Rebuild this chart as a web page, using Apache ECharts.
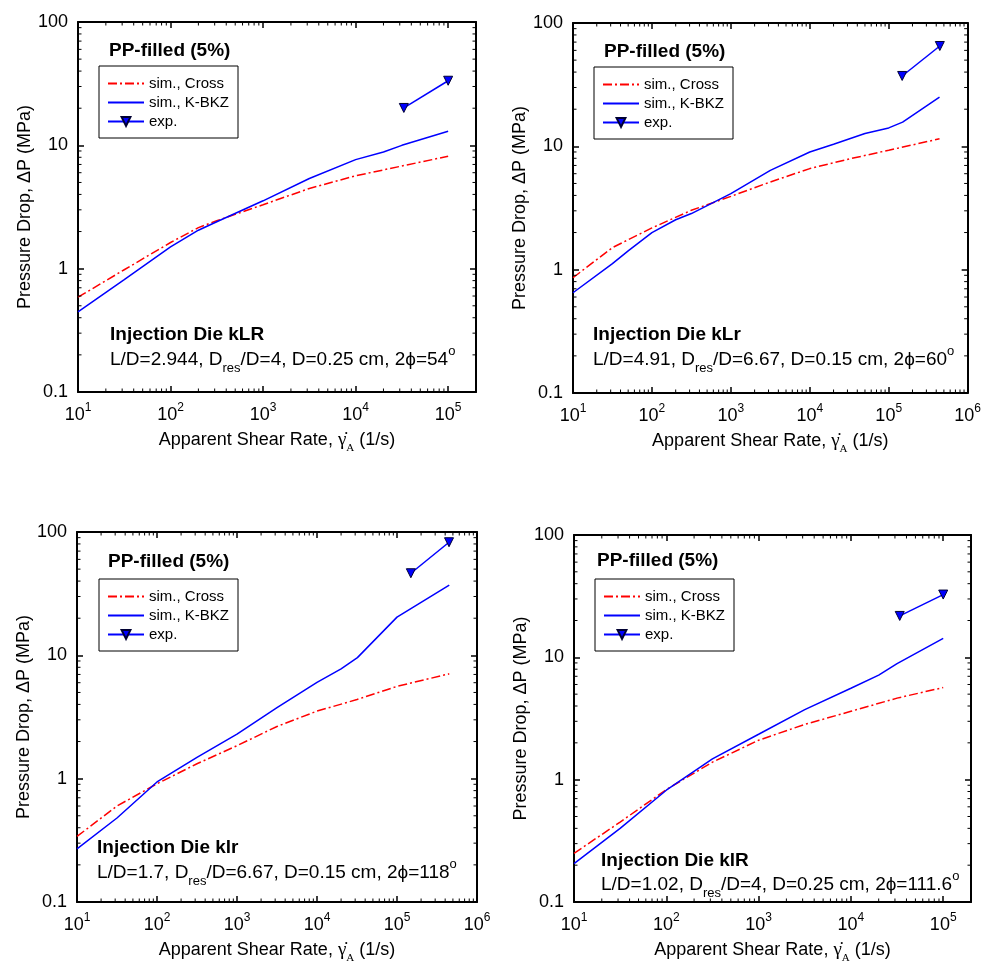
<!DOCTYPE html>
<html><head><meta charset="utf-8">
<script src="https://cdn.jsdelivr.net/npm/echarts@6/dist/echarts.min.js"></script>
<style>html,body{margin:0;padding:0;background:#fff}#c{width:984px;height:965px}</style>
</head><body><div id="c"></div><script>
// ---------------- DATA ----------------
const seriesNames = ['sim., Cross', 'sim., K-BKZ', 'exp.'];
const panelTitle = 'PP-filled (5%)';
const dieNames = ['Injection Die kLR', 'Injection Die kLr', 'Injection Die klr', 'Injection Die klR'];
const dieParams = [
  'L/D=2.944, D{sub|res}/D=4, D=0.25 cm, 2\u03D5=54{sup|o}',
  'L/D=4.91, D{sub|res}/D=6.67, D=0.15 cm, 2\u03D5=60{sup|o}',
  'L/D=1.7, D{sub|res}/D=6.67, D=0.15 cm, 2\u03D5=118{sup|o}',
  'L/D=1.02, D{sub|res}/D=4, D=0.25 cm, 2\u03D5=111.6{sup|o}'
];
const xAxisTitle = '{t|Apparent Shear Rate, }{g|\u03B3\u0307}{a|A}{t| (1/s)}';
const yAxisTitle = 'Pressure Drop, \u0394P (MPa)';
const xMinAll = 10;
const xMaxPanels = [2e5, 1e6, 1e6, 2e5];
const yMinAll = 0.1, yMaxAll = 100;

// Panel 1: kLR
const kLR_crossX = [10, 31.6, 100, 200, 316, 1000, 3162, 10000, 31620, 100000];
const kLR_crossY = [0.587, 0.98, 1.63, 2.15, 2.45, 3.3, 4.47, 5.66, 6.8, 8.15];
const kLR_kbkzX = [10, 31.6, 100, 200, 316, 1000, 3162, 10000, 20000, 31620, 100000];
const kLR_kbkzY = [0.447, 0.815, 1.50, 2.05, 2.40, 3.55, 5.38, 7.66, 8.84, 10.0, 13.0];
const kLR_expX = [33200, 100000];
const kLR_expY = [20.1, 33.4];

// Panel 2: kLr
const kLr_crossX = [10, 31.6, 100, 316, 1000, 3162, 10000, 31620, 100000, 440000];
const kLr_crossY = [0.86, 1.51, 2.18, 3.03, 3.93, 5.14, 6.6, 7.9, 9.3, 11.5];
const kLr_kbkzX = [10, 31.6, 50, 100, 200, 316, 1000, 3162, 10000, 20000, 50000, 100000, 150000, 440000];
const kLr_kbkzY = [0.65, 1.12, 1.42, 2.0, 2.54, 2.85, 4.13, 6.39, 9.0, 10.4, 12.7, 14.1, 15.7, 25.1];
const kLr_expX = [148000, 444000];
const kLr_expY = [37.2, 65.1];

// Panel 3: klr
const klr_crossX = [10, 31.6, 100, 316, 1000, 3162, 10000, 31620, 100000, 450000];
const klr_crossY = [0.34, 0.60, 0.91, 1.32, 1.85, 2.65, 3.53, 4.38, 5.6, 7.08];
const klr_kbkzX = [10, 31.6, 100, 316, 1000, 3162, 10000, 20000, 32000, 100000, 450000];
const klr_kbkzY = [0.27, 0.48, 0.94, 1.49, 2.3, 3.76, 6.04, 7.77, 9.58, 20.4, 37.1];
const klr_expX = [149000, 447000];
const klr_expY = [46.3, 82.6];

// Panel 4: klR
const klR_crossX = [10, 31.6, 100, 316, 1000, 3162, 10000, 31620, 100000];
const klR_crossY = [0.25, 0.45, 0.83, 1.39, 2.1, 2.83, 3.62, 4.64, 5.66];
const klR_kbkzX = [10, 31.6, 100, 316, 1000, 3162, 10000, 20000, 31620, 100000];
const klR_kbkzY = [0.206, 0.40, 0.82, 1.48, 2.35, 3.74, 5.59, 7.16, 8.89, 14.3];
const klR_expX = [33800, 100000];
const klR_expY = [21.8, 32.6];

// ---------------- LAYOUT ----------------
const FONT = '"Liberation Sans", Arial, Helvetica, sans-serif';
const SERIF = '"Liberation Serif", "Times New Roman", serif';
const gridBoxes = [[78, 22, 398, 370], [573, 23, 397, 370], [77, 532, 400, 374], [574, 535, 397, 371]];
const titlePos = [[109, 51], [604, 52], [108, 562], [597, 561]];
const legendPos = [[99, 66], [594, 67], [99, 579], [595, 579]];
const diePos = [[110, 335], [593, 335], [97, 848], [601, 861]];
const paramPos = [[110, 345], [593, 345], [97, 858], [601, 870]];

const panelData = [
  [[kLR_crossX, kLR_crossY], [kLR_kbkzX, kLR_kbkzY], [kLR_expX, kLR_expY]],
  [[kLr_crossX, kLr_crossY], [kLr_kbkzX, kLr_kbkzY], [kLr_expX, kLr_expY]],
  [[klr_crossX, klr_crossY], [klr_kbkzX, klr_kbkzY], [klr_expX, klr_expY]],
  [[klR_crossX, klR_crossY], [klR_kbkzX, klR_kbkzY], [klR_expX, klR_expY]]
];
const zip = (xs, ys) => xs.map((x, i) => [x, ys[i]]);

function isPow10(v) { const l = Math.log10(v); return Math.abs(l - Math.round(l)) < 1e-6; }
function xFmt(v) { if (!isPow10(v)) return ''; return '{b|10}{s|' + Math.round(Math.log10(v)) + '}'; }
function yFmt(v) {
  if (!isPow10(v)) return '';
  const e = Math.round(Math.log10(v));
  return e >= 0 ? String(Math.pow(10, e)) : '0.' + '0'.repeat(-e - 1) + '1';
}
function minorTicks(lo, hi) {
  const out = [];
  for (let e = Math.floor(Math.log10(lo)); e <= Math.ceil(Math.log10(hi)); e++) {
    for (let k = 2; k <= 9; k++) { const v = k * Math.pow(10, e); if (v > lo * 1.0001 && v < hi * 0.9999) out.push(v); }
  }
  return out;
}
function renderMinor(params, api) {
  const cs = params.coordSys;
  const kind = api.value(2);
  const p = api.coord([api.value(0), api.value(1)]);
  const L = 3.5, st = { stroke: '#000', lineWidth: 1 };
  if (kind === 0) {
    const x = p[0];
    return { type: 'group', children: [
      { type: 'line', shape: { x1: x, y1: cs.y + cs.height, x2: x, y2: cs.y + cs.height - L }, style: st },
      { type: 'line', shape: { x1: x, y1: cs.y, x2: x, y2: cs.y + L }, style: st }
    ] };
  }
  const y = p[1];
  return { type: 'group', children: [
    { type: 'line', shape: { x1: cs.x, y1: y, x2: cs.x + L, y2: y }, style: st },
    { type: 'line', shape: { x1: cs.x + cs.width, y1: y, x2: cs.x + cs.width - L, y2: y }, style: st }
  ] };
}

const axisLine = { lineStyle: { color: '#000', width: 2 } };
const axisTick = { inside: true, length: 6, lineStyle: { color: '#000', width: 1.5 } };

const option = { animation: false, backgroundColor: '#fff', grid: [], xAxis: [], yAxis: [], series: [], legend: [], graphic: [] };

gridBoxes.forEach((g, i) => {
  option.grid.push({ left: g[0], top: g[1], width: g[2], height: g[3] });
  const xMax = xMaxPanels[i];
  const xb = option.xAxis.length;
  option.xAxis.push({
    type: 'log', logBase: 10, gridIndex: i, min: xMinAll, max: xMax, position: 'bottom',
    axisLine, axisTick, splitLine: { show: false }, minorTick: { show: false },
    axisLabel: { margin: 10, formatter: xFmt, color: '#000', showMaxLabel: true,
      rich: { b: { fontSize: 18, fontFamily: FONT, color: '#000', lineHeight: 22, verticalAlign: 'bottom' },
              s: { fontSize: 12, fontFamily: FONT, color: '#000', lineHeight: 22, verticalAlign: 'top' } } },
    name: xAxisTitle, nameLocation: 'middle', nameGap: 34,
    nameTextStyle: { color: '#000', fontSize: 18, fontFamily: FONT, lineHeight: 28,
      rich: { t: { fontSize: 18, fontFamily: FONT, color: '#000', lineHeight: 28 },
              g: { fontSize: 19, fontFamily: SERIF, color: '#000', lineHeight: 28 },
              a: { fontSize: 11, fontFamily: SERIF, color: '#000', lineHeight: 28, verticalAlign: 'bottom' } } }
  });
  option.xAxis.push({
    type: 'log', logBase: 10, gridIndex: i, min: xMinAll, max: xMax, position: 'top',
    axisLine, axisTick, splitLine: { show: false }, axisLabel: { show: false }
  });
  const yb = option.yAxis.length;
  option.yAxis.push({
    type: 'log', logBase: 10, gridIndex: i, min: yMinAll, max: yMaxAll, position: 'left',
    axisLine, axisTick, splitLine: { show: false },
    axisLabel: { margin: 10, formatter: yFmt, color: '#000', fontSize: 18, fontFamily: FONT },
    name: yAxisTitle, nameLocation: 'middle', nameGap: 44,
    nameTextStyle: { color: '#000', fontSize: 18, fontFamily: FONT }
  });
  option.yAxis.push({
    type: 'log', logBase: 10, gridIndex: i, min: yMinAll, max: yMaxAll, position: 'right',
    axisLine, axisTick, splitLine: { show: false }, axisLabel: { show: false }
  });

  const d = panelData[i];
  option.series.push({
    type: 'line', name: seriesNames[0], xAxisIndex: xb, yAxisIndex: yb, data: zip(d[0][0], d[0][1]),
    symbol: 'none', lineStyle: { color: '#ff0000', width: 1.5, type: [9, 3, 2, 3] }, itemStyle: { color: '#ff0000' }, z: 3
  });
  option.series.push({
    type: 'line', name: seriesNames[1], xAxisIndex: xb, yAxisIndex: yb, data: zip(d[1][0], d[1][1]),
    symbol: 'none', lineStyle: { color: '#0000ff', width: 1.5 }, itemStyle: { color: '#0000ff' }, z: 3
  });
  option.series.push({
    type: 'line', name: seriesNames[2], xAxisIndex: xb, yAxisIndex: yb, data: zip(d[2][0], d[2][1]),
    symbol: 'triangle', symbolRotate: 180, symbolSize: 9, showSymbol: true,
    lineStyle: { color: '#0000ff', width: 1.5 }, itemStyle: { color: '#0000ff', borderColor: '#000033', borderWidth: 1 }, z: 4
  });
  const minorData = minorTicks(xMinAll, xMax).map(v => [v, yMinAll, 0])
    .concat(minorTicks(yMinAll, yMaxAll).map(v => [xMinAll, v, 1]));
  option.series.push({
    type: 'custom', xAxisIndex: xb, yAxisIndex: yb, data: minorData, renderItem: renderMinor,
    encode: { x: 0, y: 1 }, silent: true, clip: false, z: 5
  });

  option.legend.push({
    data: [
      { name: seriesNames[0], itemStyle: { opacity: 0 } },
      { name: seriesNames[1], itemStyle: { opacity: 0 } },
      { name: seriesNames[2] }
    ],
    left: legendPos[i][0], top: legendPos[i][1], orient: 'vertical',
    itemWidth: 36, itemHeight: 11, itemGap: 4, padding: [10, 9, 9, 8],
    borderColor: '#000', borderWidth: 1, borderRadius: 0, selectedMode: false,
    textStyle: { color: '#000', fontSize: 15, fontFamily: FONT, lineHeight: 13 }
  });

  option.graphic.push({
    type: 'text', x: titlePos[i][0], y: titlePos[i][1], silent: true,
    style: { text: panelTitle, fontSize: 19, fontWeight: 'bold', fontFamily: FONT, fill: '#000', align: 'left', verticalAlign: 'middle' }
  });
  option.graphic.push({
    type: 'text', x: diePos[i][0], y: diePos[i][1], silent: true,
    style: { text: dieNames[i], fontSize: 19, fontWeight: 'bold', fontFamily: FONT, fill: '#000', align: 'left', verticalAlign: 'middle' }
  });
  option.graphic.push({
    type: 'text', x: paramPos[i][0], y: paramPos[i][1], silent: true,
    style: { text: dieParams[i], fontSize: 19, fontFamily: FONT, fill: '#000', align: 'left', verticalAlign: 'top', lineHeight: 30,
      rich: { sub: { fontSize: 13, fontFamily: FONT, fill: '#000', lineHeight: 30, verticalAlign: 'bottom' },
              sup: { fontSize: 13, fontFamily: FONT, fill: '#000', lineHeight: 30, verticalAlign: 'top' } } }
  });
});

const chart = echarts.init(document.getElementById('c'), null, { renderer: 'canvas' });
chart.setOption(option);
</script></body></html>
